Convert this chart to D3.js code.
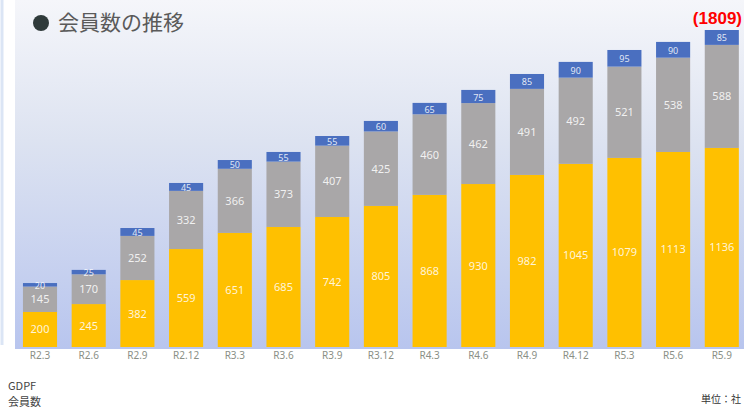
<!DOCTYPE html>
<html><head><meta charset="utf-8">
<script src="https://cdn.jsdelivr.net/npm/d3@7"></script>
<style>body{margin:0;background:#fff;}svg{display:block;}</style>
</head><body>
<svg id="c" width="744" height="409"></svg>
<script>
const categories = ["R2.3","R2.6","R2.9","R2.12","R3.3","R3.6","R3.9","R3.12","R4.3","R4.6","R4.9","R4.12","R5.3","R5.6","R5.9"];
const yellowVals = [200,245,382,559,651,685,742,805,868,930,982,1045,1079,1113,1136];
const grayVals   = [145,170,252,332,366,373,407,425,460,462,491,492,521,538,588];
const blueVals   = [20,25,45,45,50,55,55,60,65,75,85,90,95,90,85];
const totalLabel = "(1809)";
const seriesKeys = ["yellow","gray","blue"];
const colors = {yellow:"#FFC000", gray:"#A9A7A8", blue:"#4A6FC0"};

const data = categories.map((c,i)=>({cat:c, yellow:yellowVals[i], gray:grayVals[i], blue:blueVals[i]}));
const stack = d3.stack().keys(seriesKeys)(data);
const maxTotal = d3.max(data, d=>d.yellow+d.gray+d.blue);

const svg = d3.select("#c");
const defs = svg.append("defs");
const g = defs.append("linearGradient").attr("id","bg").attr("x1",0).attr("y1",0).attr("x2",0).attr("y2",1);
g.append("stop").attr("offset","0%").attr("stop-color","#f5f6fa");
g.append("stop").attr("offset","40%").attr("stop-color","#dde3f1");
g.append("stop").attr("offset","100%").attr("stop-color","#b8c5ee");

svg.append("rect").attr("x",0).attr("y",0).attr("width",744).attr("height",409).attr("fill","#fff");
svg.append("rect").attr("x",15).attr("y",0).attr("width",729).attr("height",349).attr("fill","url(#bg)");
svg.append("line").attr("x1",2).attr("x2",2).attr("y1",0).attr("y2",345).attr("stroke","#dbe5f5").attr("stroke-width",3);

const x = d3.scaleBand().domain(categories).range([15.65,746.15]).paddingInner(0.3).paddingOuter(0.15);
const y = d3.scaleLinear().domain([0,maxTotal]).range([347,30]);

const layers = svg.append("g").selectAll("g").data(stack).join("g").attr("fill",d=>colors[d.key]);
layers.selectAll("rect").data(d=>d).join("rect")
  .attr("x",d=>x(d.data.cat)).attr("width",x.bandwidth())
  .attr("y",d=>y(d[1])).attr("height",d=>y(d[0])-y(d[1]));

stack.forEach(layer=>{
  svg.append("g").selectAll("text").data(layer).join("text")
    .attr("x",d=>x(d.data.cat)+x.bandwidth()/2)
    .attr("y",d=>(y(d[0])+y(d[1]))/2+4)
    .attr("text-anchor","middle")
    .attr("font-family","Noto Sans, sans-serif")
    .attr("font-size",layer.key==="blue"?9:11)
    .attr("fill","#ffffff").attr("fill-opacity",0.85)
    .text(d=>d.data[layer.key]);
});

const xAxis = svg.append("g").attr("transform","translate(0,348)").call(d3.axisBottom(x).tickSize(0).tickPadding(4));
xAxis.select(".domain").remove();
xAxis.selectAll("text").attr("font-family","Noto Sans, sans-serif").attr("font-size",10).attr("fill","#8a8f86");

svg.append("circle").attr("cx",41).attr("cy",23).attr("r",8).attr("fill","#2f3a3a");
svg.append("text").attr("x",58).attr("y",30).attr("font-family","Noto Sans CJK JP, sans-serif").attr("font-size",21).attr("fill","#5a5a5a").text("会員数の推移");

svg.append("text").attr("x",742).attr("y",24).attr("text-anchor","end").attr("font-family","Liberation Sans, Arial, sans-serif").attr("font-weight","bold").attr("font-size",17).attr("fill","#ff0000").text(totalLabel);

svg.append("text").attr("x",8).attr("y",390).attr("font-family","Noto Sans CJK JP, sans-serif").attr("font-size",11).attr("fill","#444").text("GDPF");
svg.append("text").attr("x",8).attr("y",406).attr("font-family","Noto Sans CJK JP, sans-serif").attr("font-size",11).attr("fill","#444").text("会員数");
svg.append("text").attr("x",741).attr("y",403).attr("text-anchor","end").attr("font-family","Noto Sans CJK JP, sans-serif").attr("font-size",10).attr("fill","#333").text("単位：社");
</script>
</body></html>
